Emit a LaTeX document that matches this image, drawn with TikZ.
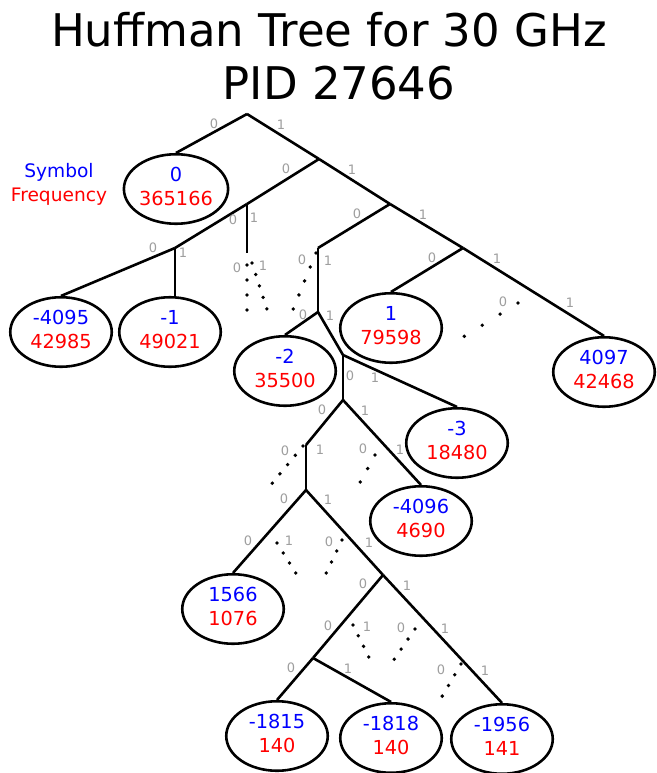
\documentclass[tikz,border=0pt]{standalone}
\usepackage{fontspec}
\setmainfont{DejaVu Sans}
\usetikzlibrary{shapes.geometric}
\definecolor{lblgray}{gray}{0.62}
\newcommand\lf[2]{\textcolor{blue}{#1}\\\textcolor{red}{#2}}
\begin{document}
\begin{tikzpicture}[x=1pt,y=-1pt,
  edge/.style={line width=2.6pt},
  dotedge/.style={line width=3.8pt, line cap=round, dash pattern=on 0pt off #1pt},
  leaf/.style={ellipse, draw, line width=2.6pt, minimum width=101.5pt, minimum height=69.5pt,
    inner sep=0pt, align=center, font=\fontsize{19.3}{24}\selectfont,
    text height=39pt, text depth=7pt},
  el/.style={text=lblgray, font=\fontsize{13}{13}\selectfont, inner sep=0pt},
]
\useasboundingbox (0,0) rectangle (656,773);

% title and legend
\node[font=\fontsize{45}{53}\selectfont, align=center, anchor=base] (title) at (329,100)
  {Huffman Tree for 30 GHz\\\hspace*{20pt}PID 27646};
\node[font=\fontsize{18.6}{24}\selectfont, align=center, anchor=base] (legend) at (59,201)
  {\textcolor{blue}{Symbol}\\\textcolor{red}{Frequency}};

% leaves
\node[leaf] (e0)     at (176,189) {\lf{0}{365166}};
\node[leaf] (e4095)  at (61,332)  {\lf{-4095}{42985}};
\node[leaf] (em1)    at (170,332) {\lf{-1}{49021}};
\node[leaf] (e1)     at (391,328) {\lf{1}{79598}};
\node[leaf] (em2)    at (285,371) {\lf{-2}{35500}};
\node[leaf] (e4097)  at (604,372) {\lf{4097}{42468}};
\node[leaf] (em3)    at (457,443) {\lf{-3}{18480}};
\node[leaf] (em4096) at (421,521) {\lf{-4096}{4690}};
\node[leaf] (e1566)  at (233,609) {\lf{1566}{1076}};
\node[leaf] (em1815) at (277,736) {\lf{-1815}{140}};
\node[leaf] (em1818) at (391,738) {\lf{-1818}{140}};
\node[leaf] (em1956) at (502,739) {\lf{-1956}{141}};

% internal points
\coordinate (r)   at (247,114);
\coordinate (n1)  at (319,159);
\coordinate (n2)  at (247,204);
\coordinate (n2v) at (247,253);
\coordinate (n3)  at (390,204);
\coordinate (n4)  at (175,248);
\coordinate (n5)  at (318,248);
\coordinate (n6)  at (463,248);
\coordinate (n7)  at (318,312);
\coordinate (n8)  at (343,355);
\coordinate (n9)  at (343,400);
\coordinate (n10) at (306,445);
\coordinate (n11) at (306,490);
\coordinate (n12) at (383,575);
\coordinate (n13) at (313,658);

% solid edges
\draw[edge] (r) -- (e0.north);
\draw[edge] (r) -- (n1);
\draw[edge] (n1) -- (n2);
\draw[edge] (n1) -- (n3);
\draw[edge] (n2) -- (n4);
\draw[edge] (n2) -- (n2v);
\draw[edge] (n4) -- (e4095.north);
\draw[edge] (n4) -- (n4 |- em1.north);
\draw[edge] (n3) -- (n5);
\draw[edge] (n3) -- (n6);
\draw[edge] (n5) -- (n7);
\draw[edge] (n6) -- (e1.north);
\draw[edge] (n6) -- (e4097.north);
\draw[edge] (n7) -- (em2.north);
\draw[edge] (n7) -- (n8);
\draw[edge] (n8) -- (em3.north);
\draw[edge] (n8) -- (n9);
\draw[edge] (n9) -- (n10);
\draw[edge] (n9) -- (em4096.north);
\draw[edge] (n10) -- (n11);
\draw[edge] (n11) -- (e1566.north);
\draw[edge] (n11) -- (n12);
\draw[edge] (n12) -- (n13);
\draw[edge] (n12) -- (em1956.north);
\draw[edge] (n13) -- (em1815.north);
\draw[edge] (n13) -- (em1818.north);

% dotted (collapsed) branches
\foreach \i/\xa/\ya/\xb/\yb/\s in {
  1/247/265/247/310.5/15,
  2/252/263/267/309.5/12.05,
  3/316/253/293/309.5/15.1,
  4/518/303/464/336.5/21.05,
  5/375/455/360/482.5/15.4,
  6/303/446/272/483.5/12.05,
  7/277/543/296/573.5/11.8,
  8/342/540/326/573.5/12.2,
  9/353/625/369/657.5/11.9,
  10/415/629/394/659.5/12.2,
  11/461/664/442/696.5/12.4}{
  \coordinate (ds\i) at (\xa,\ya);
  \coordinate (de\i) at (\xb,\yb);
  \draw[dotedge=\s] (ds\i) -- (de\i);
}

% branch labels
\foreach \n/\x/\y/\t in {
  a/214/124/0, b/281/125/1,
  c/286/169/0, d/352/170/1,
  e/233/220/0, f/254/218/1,
  g/357/214/0, h/423/215/1,
  i/153/248/0, j/183/253/1,
  k/302/260/0, l/328/261/1,
  m/432/258/0, n/497/259/1,
  o/237/268/0, p/263/266/1,
  q/303/315/0, s/330/316/1,
  t/503/302/0, u/570/303/1,
  v/350/376/0, w/375/378/1,
  x/322/410/0, y/365/411/1,
  z/363/449/0, A/400/450/1,
  B/285/451/0, C/320/450/1,
  D/284/499/0, E/328/500/1,
  F/248/541/0, G/289/541/1,
  H/329/542/0, I/369/543/1,
  J/363/584/0, K/407/586/1,
  L/328/626/0, M/367/627/1,
  N/401/628/0, O/445/629/1,
  P/441/670/0, Q/485/671/1,
  R/291/668/0, S/348/669/1}{
  \node[el] (lab\n) at (\x,\y) {\t};
}
\end{tikzpicture}
\end{document}
